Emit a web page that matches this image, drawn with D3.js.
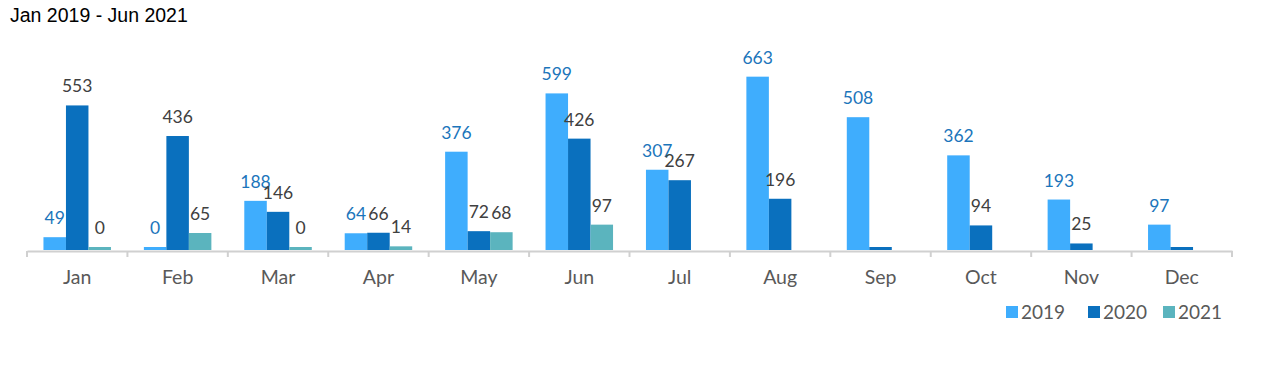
<!DOCTYPE html>
<html>
<head>
<meta charset="utf-8">
<script src="https://cdn.jsdelivr.net/npm/d3@7"></script>
<style>
  body { margin: 0; background: #fff; }
</style>
</head>
<body>
<div id="chart"></div>
<script>
// Chart data
var months = ["Jan", "Feb", "Mar", "Apr", "May", "Jun", "Jul", "Aug", "Sep", "Oct", "Nov", "Dec"];
var years = ["2019", "2020", "2021"];
var values2019 = [49, 0, 188, 64, 376, 599, 307, 663, 508, 362, 193, 97];
var values2020 = [553, 436, 146, 66, 72, 426, 267, 196, 0, 94, 25, 0];
var values2021 = [0, 65, 0, 14, 68, 97, null, null, null, null, null, null];
// labels not shown in the original (Sep, Dec for 2020)
var hiddenLabels2020 = ["Sep", "Dec"];

var colors = { "2019": "#3fadfd", "2020": "#0a70be", "2021": "#5bb4be" };
var labelColors = { "2019": "#1b75bb", "2020": "#404040", "2021": "#404040" };

var svgWidth = 1280;
var svgHeight = 379;

var margin = { top: 67, left: 27, right: 48, baseline: 250 };

var svg = d3.select("#chart")
  .append("svg")
  .attr("width", svgWidth)
  .attr("height", svgHeight);

// title
svg.append("text")
  .attr("x", 10)
  .attr("y", 22)
  .attr("font-family", "Liberation Sans, Arial, sans-serif")
  .attr("font-size", "19.5px")
  .attr("fill", "#000")
  .text("Jan 2019 - Jun 2021");

// rows of data
var rows = months.map(function(m, i) {
  return [
    { month: m, year: "2019", value: values2019[i], showLabel: true },
    { month: m, year: "2020", value: values2020[i], showLabel: hiddenLabels2020.indexOf(m) < 0 },
    { month: m, year: "2021", value: values2021[i], showLabel: true }
  ].filter(function(d) { return d.value !== null; });
});

var xScale = d3.scaleBand()
  .domain(months)
  .range([margin.left, svgWidth - margin.right]);

var innerX = d3.scaleBand()
  .domain(years)
  .range([0, 67.5]);

var yScale = d3.scaleLinear()
  .domain([0, 700])
  .range([margin.baseline, margin.top]);

var groupOffset = (xScale.bandwidth() - 67.5) / 2;

var groups = svg.append("g")
  .selectAll("g")
  .data(rows)
  .enter()
  .append("g")
  .attr("transform", function(d, i) { return `translate(${xScale(months[i]) + groupOffset}, 0)`; });

groups.selectAll("rect")
  .data(function(d) { return d; })
  .enter()
  .append("rect")
  .attr("x", function(d) { return innerX(d.year); })
  .attr("width", innerX.bandwidth())
  .attr("y", function(d) { return Math.min(yScale(d.value), margin.baseline - 3); })
  .attr("height", function(d) { return Math.max(margin.baseline - yScale(d.value), 3); })
  .attr("fill", function(d) { return colors[d.year]; });

groups.selectAll("text")
  .data(function(d) { return d.filter(function(e) { return e.showLabel; }); })
  .enter()
  .append("text")
  .attr("x", function(d) { return innerX(d.year) + innerX.bandwidth() / 2; })
  .attr("y", function(d) { return Math.min(yScale(d.value), margin.baseline - 3) - 13; })
  .attr("text-anchor", "middle")
  .attr("font-family", "Lato, sans-serif")
  .attr("font-size", "17.5px")
  .attr("fill", function(d) { return labelColors[d.year]; })
  .text(function(d) { return d.value; });

// x axis
var bottomAxis = d3.axisBottom(xScale).tickSize(0).tickPadding(19);

var axisGroup = svg.append("g")
  .attr("transform", `translate(0, ${margin.baseline + 1})`)
  .call(bottomAxis);

axisGroup.select(".domain")
  .attr("stroke", "#d0d0d0")
  .attr("stroke-width", 2);

axisGroup.selectAll("text")
  .attr("font-family", "Lato, sans-serif")
  .attr("font-size", "19.5px")
  .attr("fill", "#595959");

// boundary tick marks
var boundaries = months.map(function(m) { return xScale(m); }).concat([svgWidth - margin.right]);
axisGroup.append("g")
  .selectAll("line")
  .data(boundaries)
  .enter()
  .append("line")
  .attr("x1", function(d) { return d; })
  .attr("x2", function(d) { return d; })
  .attr("y1", 0)
  .attr("y2", 6)
  .attr("stroke", "#d0d0d0")
  .attr("stroke-width", 2);

// legend
var legendX = [1006, 1088, 1163];
var legend = svg.append("g")
  .selectAll("g")
  .data(years)
  .enter()
  .append("g")
  .attr("transform", function(d, i) { return `translate(${legendX[i]}, 306)`; });

legend.append("rect")
  .attr("width", 12)
  .attr("height", 12)
  .attr("fill", function(d) { return colors[d]; });

legend.append("text")
  .attr("x", 15)
  .attr("y", 13)
  .attr("font-family", "Lato, sans-serif")
  .attr("font-size", "19px")
  .attr("fill", "#595959")
  .text(function(d) { return d; });
</script>
</body>
</html>
